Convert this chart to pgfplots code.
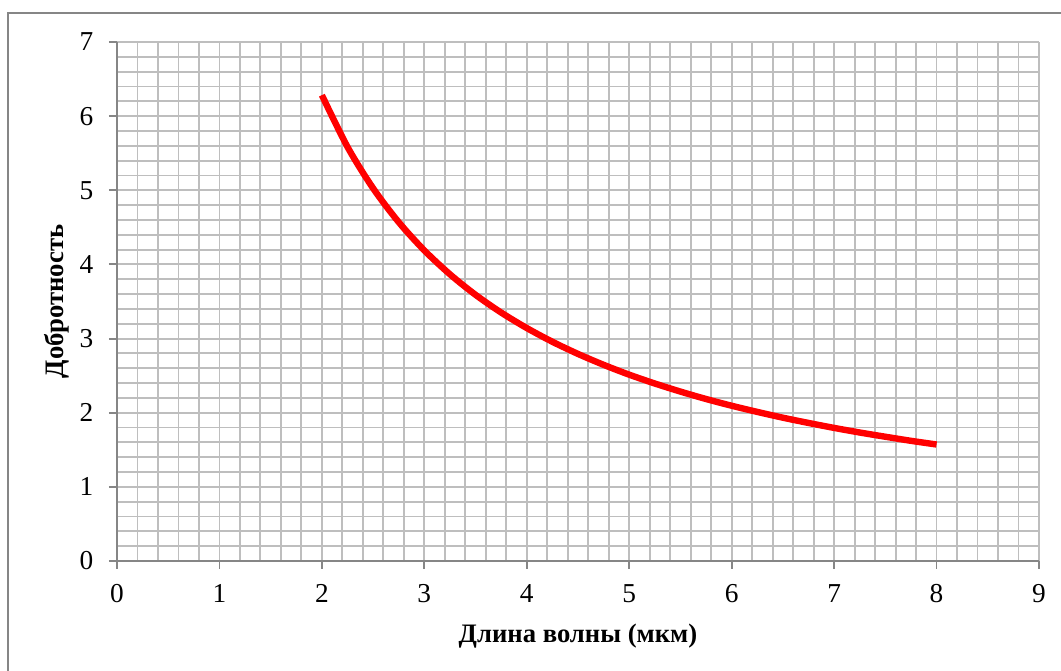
\documentclass[border=0pt]{standalone}
\usepackage{pgfplots}
\pgfplotsset{compat=1.18}
\usepackage{fontspec}
\setmainfont{Liberation Serif}
\definecolor{gridgray}{RGB}{190,190,190}
\definecolor{axgray}{RGB}{134,134,134}
\begin{document}
\fontsize{20}{24}\selectfont
\begin{tikzpicture}
\useasboundingbox (0,0) rectangle (795.75pt,503.25pt);
\fill[white] (0,0) rectangle (795.75pt,503.25pt);
\draw[axgray, line width=1.5pt] (6pt,-2pt) -- (6pt,493.5pt) -- (800pt,493.5pt);
\begin{axis}[
  at={(87.75pt,82.5pt)}, anchor=origin,
  scale only axis, width=691.5pt, height=389.25pt,
  xmin=0, xmax=9, ymin=0, ymax=7,
  xtick={0,...,9}, ytick={0,...,7},
  minor x tick num=4, minor y tick num=4,
  grid=both,
  major grid style={gridgray, line width=1.4pt},
  minor grid style={gridgray, line width=1.4pt},
  axis lines*=left,
  axis line style={axgray, line width=1.4pt, -},
  tick align=outside,
  major tick length=6pt,
  minor tick length=0pt,
  tick style={axgray, line width=1.4pt},
  /pgf/number format/assume math mode=true,
  ticklabel style={font=\fontsize{20.5}{24}\selectfont},
  xticklabel style={yshift=-5pt},
  yticklabel style={xshift=-5pt},
  xlabel={\textbf{Длина волны (мкм)}},
  ylabel={\textbf{Добротность}},
  label style={font=\fontsize{20}{24}\selectfont},
  xlabel style={yshift=-2pt},
  ylabel style={yshift=-6pt},
  clip=false,
]
\addplot[red, line width=4.8pt, smooth] coordinates {
(2.0,6.283) (2.25,5.585) (2.5,5.027) (2.75,4.570) (3.0,4.189) (3.25,3.867)
(3.5,3.590) (3.75,3.351) (4.0,3.142) (4.25,2.957) (4.5,2.793) (4.75,2.646)
(5.0,2.513) (5.25,2.394) (5.5,2.285) (5.75,2.185) (6.0,2.094) (6.25,2.011)
(6.5,1.933) (6.75,1.862) (7.0,1.795) (7.25,1.733) (7.5,1.676) (7.75,1.621)
(8.0,1.571)
};
\end{axis}
\end{tikzpicture}
\end{document}
